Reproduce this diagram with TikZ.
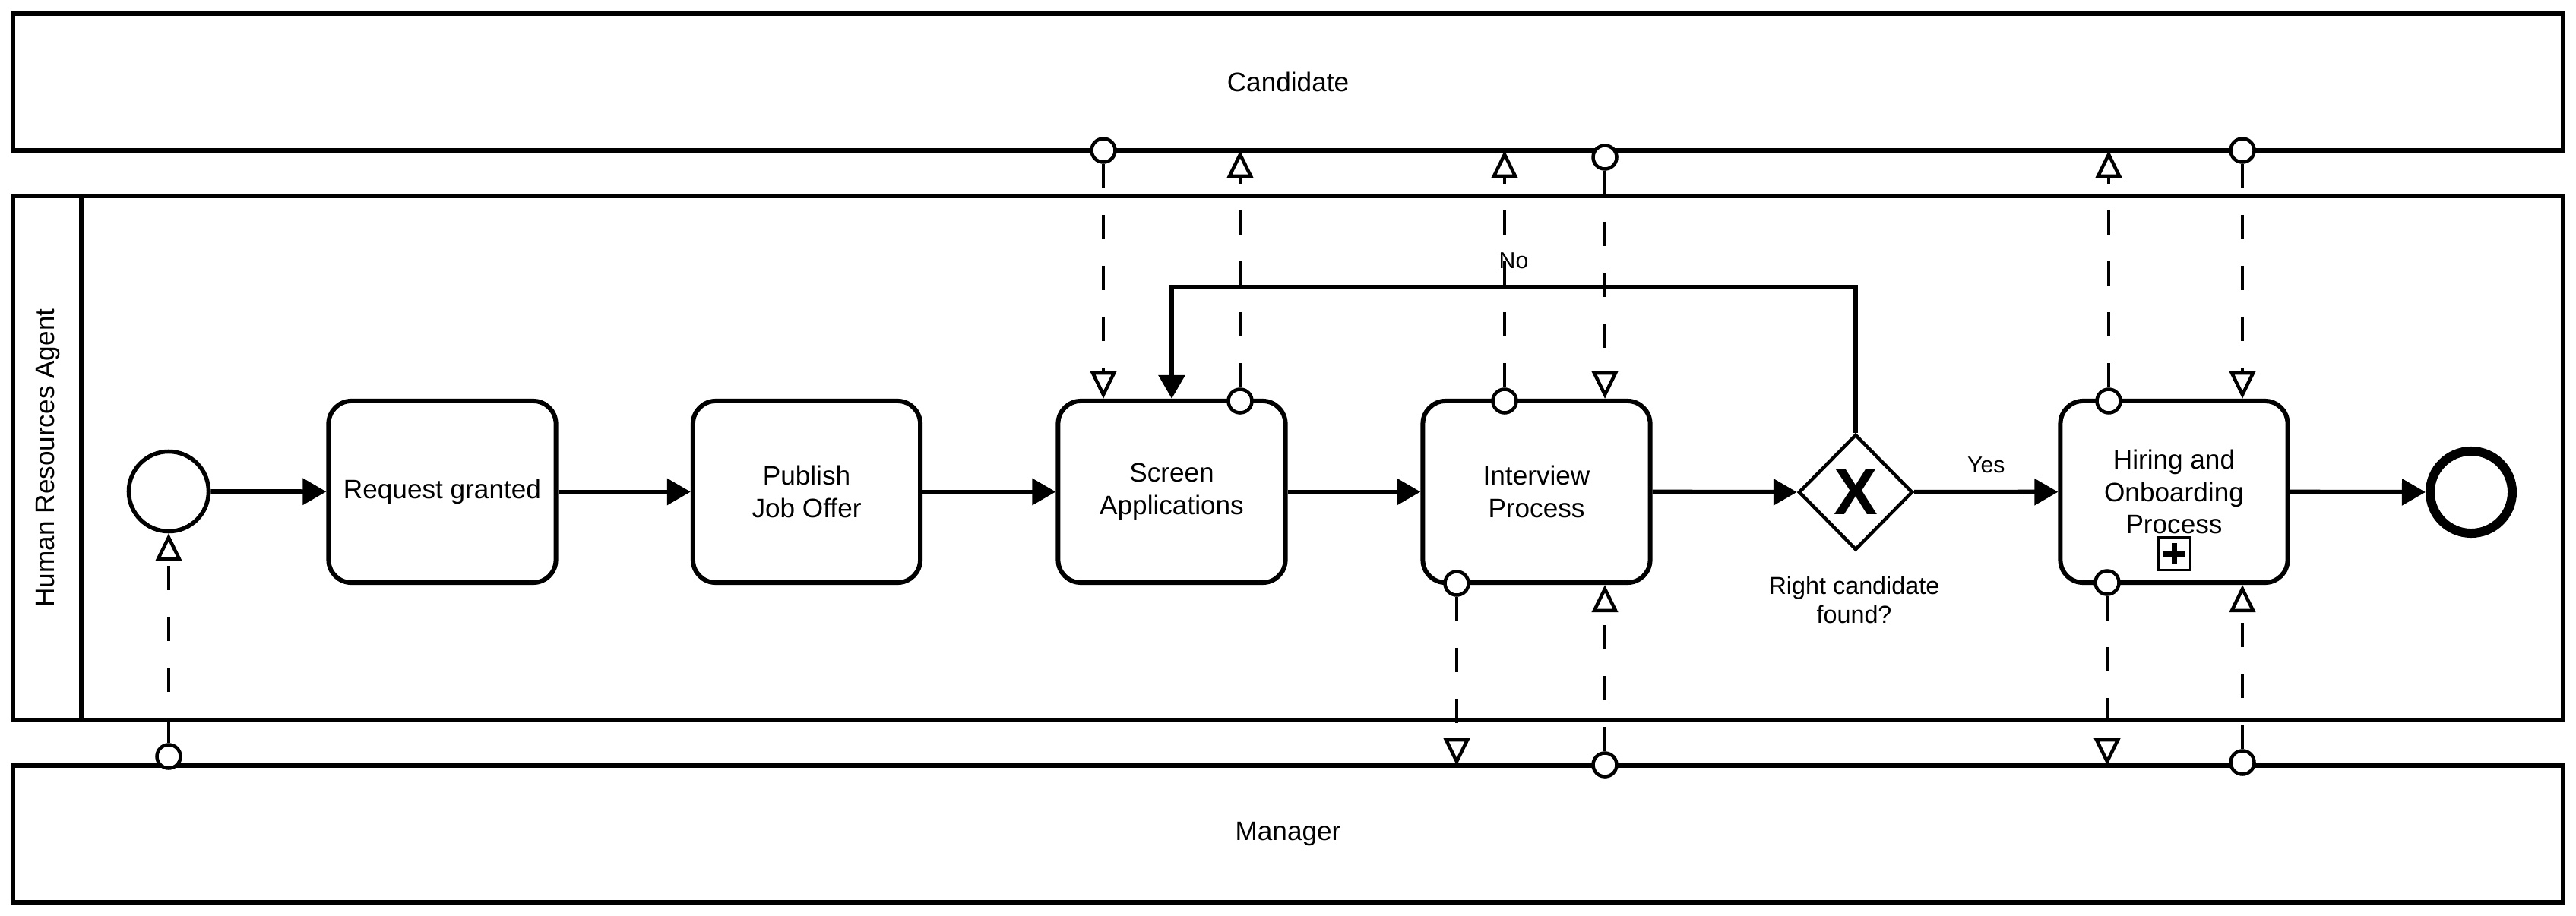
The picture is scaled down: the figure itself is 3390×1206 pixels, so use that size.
\documentclass[tikz,border=0pt]{standalone}
\usepackage{fontspec}
\setmainfont{Liberation Sans}
\usetikzlibrary{shapes.geometric,arrows.meta,calc}
\begin{document}
\begin{tikzpicture}[x=0.01cm,y=-0.01cm,
  pool/.style={draw, line width=0.06cm, minimum width=33.54cm, minimum height=1.8cm, inner sep=0, outer sep=0, font=\fontsize{10}{12}\selectfont},
  task/.style={draw, line width=0.06cm, rounded corners=0.3cm, minimum width=2.99cm, minimum height=2.39cm, align=center, font=\fontsize{10}{12.2}\selectfont, inner sep=0},
  seq/.style={line width=0.06cm, -{Triangle[length=0.31cm,width=0.34cm]}},
  msg/.style={line width=0.045cm, dash pattern=on 0.32cm off 0.35cm, -{Triangle[open,fill=white,length=0.36cm,width=0.34cm]}},
  mcirc/.style={circle, draw, line width=0.045cm, fill=white, minimum size=0.31cm, inner sep=0},
  elabel/.style={font=\fontsize{8.6}{10}\selectfont, inner sep=1pt},
]
\useasboundingbox (0,0) rectangle (3390,1206);
% pools
\node[pool] (cand) at (1695,108) {Candidate};
\node[pool, minimum height=6.9cm] (hr) at (1695,603) {};
\node[pool] (mgr) at (1695,1098) {Manager};
\draw[line width=0.06cm] ([xshift=0.9cm]hr.north west) -- ([xshift=0.9cm]hr.south west);
\node[rotate=90, font=\fontsize{10}{12}\selectfont] (hrlabel) at (63,603) {Human Resources Agent};
% events
\node[circle, draw, line width=0.055cm, minimum size=1.05cm, inner sep=0] (start) at (222,647) {};
\node[circle, draw, line width=0.12cm, minimum size=1.08cm, inner sep=0] (end) at (3252,648) {};
% tasks
\node[task] (req) at (582,647.5) {Request granted};
\node[task] (pub) at (1061.5,647.5) {Publish\\Job Offer};
\node[task] (scr) at (1542,647.5) {Screen\\Applications};
\node[task] (int) at (2022,647.5) {Interview\\Process};
\node[task] (hir) at (2861,647.5) {Hiring and\\Onboarding\\Process};
\node[draw, line width=0.03cm, minimum size=0.42cm, inner sep=0] (plus) at (2861,729) {};
\draw[line width=0.07cm] ($(plus.center)+(-14,0)$) -- ($(plus.center)+(14,0)$);
\draw[line width=0.07cm] ($(plus.center)+(0,-14)$) -- ($(plus.center)+(0,14)$);
% gateway
\node[diamond, draw, line width=0.045cm, minimum width=1.5cm, minimum height=1.52cm, inner sep=0] (gw) at (2442,648) {};
\node[font=\fontsize{24.6}{25}\selectfont\bfseries] (gwx) at (gw.center) {X};
\node[align=center, font=\fontsize{9.2}{10.8}\selectfont] (gwl) at (2440,790) {Right candidate\\found?};
% sequence flows
\draw[seq] (start) -- (req);
\draw[seq] (req) -- (pub);
\draw[seq] (pub) -- (scr);
\draw[seq] (scr) -- (int);
\draw[seq] (int) -- (gw);
\draw[seq] (gw) -- node[elabel, above=0.18cm] (yes) {Yes} (hir);
\draw[seq] (hir) -- (end);
\coordinate (loopy) at (0,378);
\draw[seq] (gw.north) |- node[pos=0.75, elabel, above=0.18cm] (no) {No} (scr.north |- loopy) -- (scr.north);
% message flows
\node[mcirc] (c1) at (222,996) {};
\draw[msg] (c1) -- (start);
\node[mcirc] (c2) at (1452,198) {};
\draw[msg] (c2) -- (c2 |- scr.north);
\node[mcirc] (c3) at (1632,528) {};
\draw[msg] (c3) -- (c3 |- cand.south);
\node[mcirc] (c4) at (1980,528) {};
\draw[msg] (c4) -- (c4 |- cand.south);
\node[mcirc] (c5) at (2112,207) {};
\draw[msg] (c5) -- (c5 |- int.north);
\node[mcirc] (c6) at (1917,768) {};
\draw[msg] (c6) -- (c6 |- mgr.north);
\node[mcirc] (c7) at (2112,1007) {};
\draw[msg] (c7) -- (c7 |- int.south);
\node[mcirc] (c8) at (2775,528) {};
\draw[msg] (c8) -- (c8 |- cand.south);
\node[mcirc] (c9) at (2951,198) {};
\draw[msg] (c9) -- (c9 |- hir.north);
\node[mcirc] (c10) at (2773,767) {};
\draw[msg] (c10) -- (c10 |- mgr.north);
\node[mcirc] (c11) at (2951,1004) {};
\draw[msg] (c11) -- (c11 |- hir.south);
\end{tikzpicture}
\end{document}
